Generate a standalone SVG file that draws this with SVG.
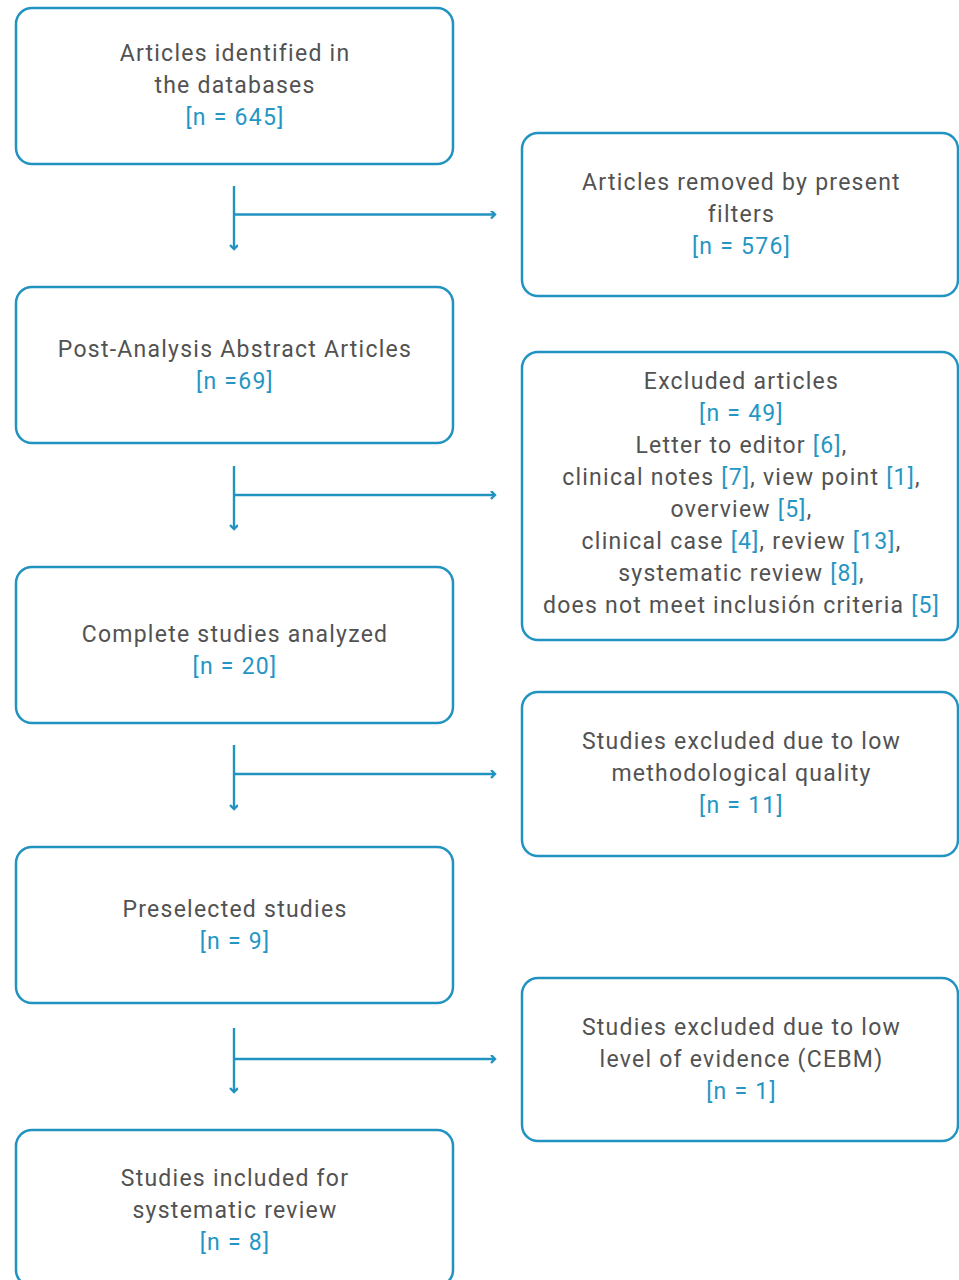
<svg xmlns="http://www.w3.org/2000/svg" width="959" height="1280" viewBox="0 0 959 1280">
<style>
.box{fill:#fff;stroke:#2093c0;stroke-width:2.5}
.t{font-family:Roboto,"Liberation Sans",sans-serif;font-size:23px;fill:#525252;text-anchor:middle;letter-spacing:1.25px}
.b{fill:#2596c4}
.c{fill:none;stroke:#2093c0;stroke-width:2.4}
</style>
<defs>
<marker id="ah" markerWidth="10" markerHeight="10" refX="5" refY="4" orient="auto" markerUnits="userSpaceOnUse" viewBox="0 0 10 10">
<path d="M1,0 L5,4 L1,8" fill="none" stroke="#2093c0" stroke-width="2.4"/>
</marker>
</defs>
<rect width="959" height="1280" fill="#fff"/>
<g id="connectors">
<path class="c" d="M234,186 V249" marker-end="url(#ah)"/>
<path class="c" d="M234,214.5 H495" marker-end="url(#ah)"/>
<path class="c" d="M234,466 V529" marker-end="url(#ah)"/>
<path class="c" d="M234,495 H495" marker-end="url(#ah)"/>
<path class="c" d="M234,745 V809" marker-end="url(#ah)"/>
<path class="c" d="M234,774 H495" marker-end="url(#ah)"/>
<path class="c" d="M234,1028 V1092" marker-end="url(#ah)"/>
<path class="c" d="M234,1059 H495" marker-end="url(#ah)"/>
</g>
<g id="n1">
<rect class="box" x="16" y="8" width="437" height="156" rx="16"/>
<text class="t" x="235" y="61">Articles identified in</text>
<text class="t" x="235" y="93">the databases</text>
<text class="t b" x="235" y="125">[n = 645]</text>
</g>
<g id="r1">
<rect class="box" x="522" y="133" width="436" height="163" rx="16"/>
<text class="t" x="741.5" y="190">Articles removed by present</text>
<text class="t" x="741.5" y="222">filters</text>
<text class="t b" x="741.5" y="254">[n = 576]</text>
</g>
<g id="n2">
<rect class="box" x="16" y="287" width="437" height="156" rx="16"/>
<text class="t" x="235" y="357">Post-Analysis Abstract Articles</text>
<text class="t b" x="235" y="389">[n =69]</text>
</g>
<g id="r2">
<rect class="box" x="522" y="352" width="436" height="288" rx="16"/>
<text class="t" x="741.5" y="389">Excluded articles</text>
<text class="t b" x="741.5" y="421">[n = 49]</text>
<text class="t" x="741.5" y="453">Letter to editor <tspan class="b">[6]</tspan>,</text>
<text class="t" x="741.5" y="485">clinical notes <tspan class="b">[7]</tspan>, view point <tspan class="b">[1]</tspan>,</text>
<text class="t" x="741.5" y="517">overview <tspan class="b">[5]</tspan>,</text>
<text class="t" x="741.5" y="549">clinical case <tspan class="b">[4]</tspan>, review <tspan class="b">[13]</tspan>,</text>
<text class="t" x="741.5" y="581">systematic review <tspan class="b">[8]</tspan>,</text>
<text class="t" x="741.5" y="613">does not meet inclusión criteria <tspan class="b">[5]</tspan></text>
</g>
<g id="n3">
<rect class="box" x="16" y="567" width="437" height="156" rx="16"/>
<text class="t" x="235" y="642">Complete studies analyzed</text>
<text class="t b" x="235" y="674">[n = 20]</text>
</g>
<g id="r3">
<rect class="box" x="522" y="692" width="436" height="164" rx="16"/>
<text class="t" x="741.5" y="749">Studies excluded due to low</text>
<text class="t" x="741.5" y="781">methodological quality</text>
<text class="t b" x="741.5" y="813">[n = 11]</text>
</g>
<g id="n4">
<rect class="box" x="16" y="847" width="437" height="156" rx="16"/>
<text class="t" x="235" y="917">Preselected studies</text>
<text class="t b" x="235" y="949">[n = 9]</text>
</g>
<g id="r4">
<rect class="box" x="522" y="978" width="436" height="163" rx="16"/>
<text class="t" x="741.5" y="1035">Studies excluded due to low</text>
<text class="t" x="741.5" y="1067">level of evidence (CEBM)</text>
<text class="t b" x="741.5" y="1099">[n = 1]</text>
</g>
<g id="n5">
<rect class="box" x="16" y="1130" width="437" height="156" rx="16"/>
<text class="t" x="235" y="1186">Studies included for</text>
<text class="t" x="235" y="1218">systematic review</text>
<text class="t b" x="235" y="1250">[n = 8]</text>
</g>
</svg>
